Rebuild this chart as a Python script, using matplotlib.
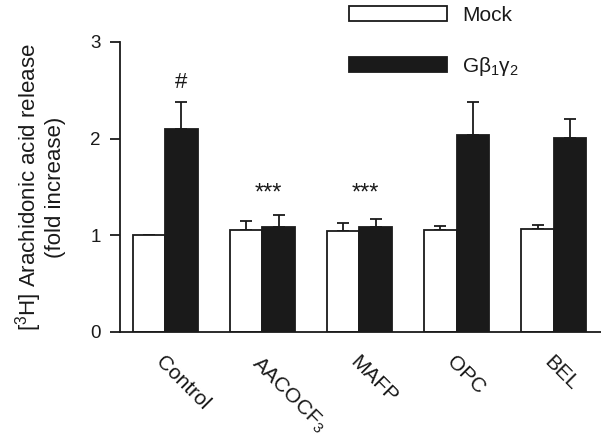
import numpy as np
import matplotlib.pyplot as plt
from matplotlib.patches import Rectangle

plt.rcParams['font.family'] = ['Liberation Sans', 'DejaVu Sans']
plt.rcParams['mathtext.fontset'] = 'custom'
plt.rcParams['mathtext.rm'] = 'Liberation Sans'
plt.rcParams['mathtext.it'] = 'Liberation Sans'

groups = ["Control", "AACOCF$_3$", "MAFP", "OPC", "BEL"]
mock = [1.00, 1.06, 1.04, 1.06, 1.07]
mock_err = [0.00, 0.09, 0.09, 0.04, 0.04]
gbg = [2.10, 1.09, 1.09, 2.04, 2.01]
gbg_err = [0.28, 0.12, 0.08, 0.34, 0.19]
marks = ["#", "***", "***", "", ""]

ink = "#1a1a1a"
fig = plt.figure(figsize=(6.01, 4.41), dpi=100)
ax = fig.add_axes([0.1997, 0.2472, 0.8003, 0.6576])

x = np.arange(len(groups))
w = 0.335
ax.bar(x - w / 2, mock, w, color="white", edgecolor=ink, linewidth=1.3, zorder=2)
ax.bar(x + w / 2, gbg, w, color=ink, edgecolor=ink, linewidth=1.3, zorder=2)
ax.errorbar(x - w / 2, mock, yerr=[np.zeros(len(x)), mock_err], fmt="none",
            ecolor=ink, elinewidth=1.3, capsize=4, capthick=1.3, zorder=1)
ax.errorbar(x + w / 2, gbg, yerr=[np.zeros(len(x)), gbg_err], fmt="none",
            ecolor=ink, elinewidth=1.3, capsize=4, capthick=1.3, zorder=1)

for i, m in enumerate(marks):
    if m == "#":
        ax.text(x[i] + w / 2, 2.52, m, ha="center", va="baseline", fontsize=16, color=ink)
    elif m:
        ax.text(x[i] + 0.06, 1.37, m, ha="center", va="baseline", fontsize=17, color=ink)

ax.set_xlim(-0.464, 4.485)
ax.set_ylim(0, 3)
ax.set_yticks([0, 1, 2, 3])
ax.tick_params(axis="y", length=7, width=1.3, labelsize=13.5, pad=7, color=ink, labelcolor=ink)
ax.set_xticks(x)
ax.set_xticklabels(groups, rotation=-45, ha="left", rotation_mode="anchor", fontsize=15, color=ink)
ax.tick_params(axis="x", length=0, pad=15)
for s in ["top", "right"]:
    ax.spines[s].set_visible(False)
for s in ["left", "bottom"]:
    ax.spines[s].set_linewidth(1.3)
    ax.spines[s].set_color(ink)
ax.set_ylabel("[$^3$H] Arachidonic acid release\n(fold increase)", fontsize=16,
              labelpad=17, color=ink, linespacing=1.1)

h1 = Rectangle((0, 0), 1, 1, facecolor="white", edgecolor=ink, linewidth=1.3)
h2 = Rectangle((0, 0), 1, 1, facecolor=ink, edgecolor=ink, linewidth=1.3)
fig.legend([h1, h2], ["Mock", "G$\\beta_1\\gamma_2$"], loc="upper left",
           bbox_to_anchor=(0.55, 1.03), frameon=False, fontsize=15, labelcolor=ink,
           handlelength=4.7, handleheight=0.75, labelspacing=1.45, handletextpad=0.7)

fig.savefig("out.png", dpi=100)
